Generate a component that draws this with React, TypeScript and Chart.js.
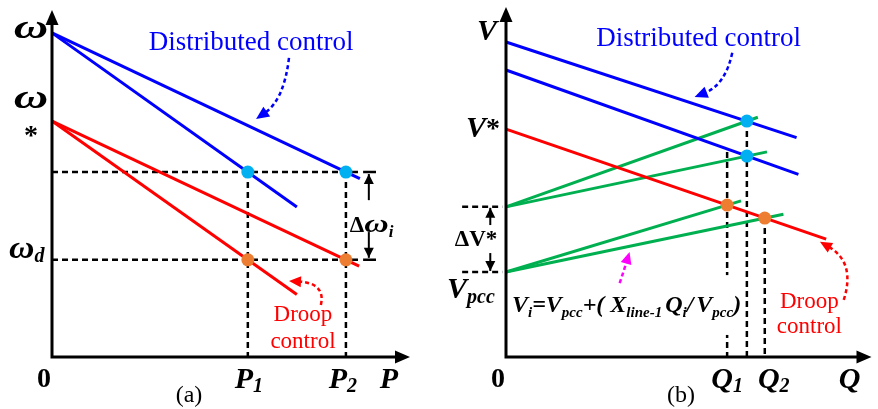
import { useEffect, useRef } from "react";
import { Chart, registerables } from "chart.js";

Chart.register(...registerables);

const SERIF = '"Liberation Serif", "Times New Roman", serif';
const BLUE = "#0000ff";
const RED = "#ff0000";
const GREEN = "#00b050";
const CYAN = "#00b0f0";
const ORANGE = "#ed7d31";
const MAGENTA = "#ff00ff";
const BLACK = "#000000";

type Pt = [number, number];

// ---------- (a) P–ω characteristics ----------
const P_OPERATING = [5.47, 8.21]; // P1, P2
const OMEGA_NOMINAL = 9.34; // ω
const OMEGA_STAR = 6.8; // ω*
const OMEGA_SHARED = 5.33; // common frequency under distributed control
const OMEGA_D = 2.8; // ω_d

const A_DISTRIBUTED: Pt[][] = [
  [[0, 9.34], [8.6, 5.14]],
  [[0, 9.34], [6.84, 4.32]],
];
const A_DROOP: Pt[][] = [
  [[0, 6.8], [8.58, 2.62]],
  [[0, 6.8], [6.84, 1.8]],
];
const A_DISTRIBUTED_POINTS: Pt[] = [[5.47, 5.33], [8.21, 5.33]];
const A_DROOP_POINTS: Pt[] = [[5.47, 2.8], [8.21, 2.8]];
const A_GUIDES: Pt[][] = [
  [[0, 5.33], [8.65, 5.33]],
  [[0, 2.8], [8.65, 2.8]],
  [[5.47, 5.33], [5.47, 0]],
  [[8.21, 5.33], [8.21, 0]],
];

// ---------- (b) Q–V characteristics ----------
const Q_OPERATING = [6.05, 6.59, 7.08]; // Q1, distributed Q, Q2
const V_STAR = 6.51; // V*
const V_UPPER = 4.29; // Vpcc + ΔV*
const V_PCC = 2.43; // Vpcc

const B_DISTRIBUTED: Pt[][] = [
  [[0, 9.0], [7.95, 6.27]],
  [[0, 8.2], [8.0, 5.22]],
];
const B_DROOP: Pt[] = [[0, 6.51], [8.76, 3.37]];
const B_LINE_DROP: Pt[][] = [
  [[0, 4.29], [6.89, 6.85]],
  [[0, 4.29], [7.14, 5.86]],
  [[0, 2.43], [6.43, 4.46]],
  [[0, 2.43], [7.59, 4.08]],
];
const B_DISTRIBUTED_POINTS: Pt[] = [[6.59, 6.74], [6.59, 5.74]];
const B_DROOP_POINTS: Pt[] = [[6.05, 4.34], [7.08, 3.97]];
const B_GUIDES: Pt[][] = [
  [[6.05, 5.86], [6.05, 0]],
  [[6.59, 6.74], [6.59, 0]],
  [[7.08, 3.97], [7.08, 0]],
  [[-1.2, 4.29], [-0.1, 4.29]],
  [[-1.2, 2.43], [-0.1, 2.43]],
];

const BI = (px: number) => `bold italic ${px}px ${SERIF}`;
const B = (px: number) => `bold ${px}px ${SERIF}`;
const R = (px: number) => `${px}px ${SERIF}`;

// [text, font, baseline shift, horizontal stretch] or [gap]
type Part = [string, string, number, number?] | [number];

function rich(ctx: CanvasRenderingContext2D, parts: Part[], x: number, y: number, align: "left" | "center" | "right", color = BLACK) {
  const widths = parts.map((p) => {
    if (p.length === 1) return p[0];
    ctx.font = p[1];
    return ctx.measureText(p[0]).width * (p[3] ?? 1);
  });
  const total = widths.reduce((s, w) => s + w, 0);
  let cx = align === "center" ? x - total / 2 : align === "right" ? x - total : x;
  ctx.textAlign = "left";
  ctx.textBaseline = "alphabetic";
  ctx.fillStyle = color;
  parts.forEach((p, i) => {
    if (p.length > 1) {
      const [t, f, dy, sx] = p as [string, string, number, number?];
      ctx.font = f;
      ctx.save();
      ctx.translate(cx, y + dy);
      ctx.scale(sx ?? 1, 1);
      ctx.fillText(t, 0, 0);
      ctx.restore();
    }
    cx += widths[i];
  });
}

function label(ctx: CanvasRenderingContext2D, s: string, x: number, y: number, font: string, color: string) {
  ctx.font = font;
  ctx.fillStyle = color;
  ctx.textAlign = "center";
  ctx.textBaseline = "middle";
  ctx.fillText(s, x, y);
}

function arrowHead(ctx: CanvasRenderingContext2D, tx: number, ty: number, ux: number, uy: number, len: number, half: number, color: string) {
  ctx.fillStyle = color;
  ctx.beginPath();
  ctx.moveTo(tx, ty);
  ctx.lineTo(tx - ux * len - uy * half, ty - uy * len + ux * half);
  ctx.lineTo(tx - ux * len + uy * half, ty - uy * len - ux * half);
  ctx.closePath();
  ctx.fill();
}

function curvedArrow(ctx: CanvasRenderingContext2D, p0: Pt, c: Pt, tip: Pt, color: string, width: number, headLen: number, headHalf: number) {
  const dx = tip[0] - c[0];
  const dy = tip[1] - c[1];
  const d = Math.hypot(dx, dy);
  const ux = dx / d;
  const uy = dy / d;
  const bx = tip[0] - ux * headLen * 0.8;
  const by = tip[1] - uy * headLen * 0.8;
  ctx.strokeStyle = color;
  ctx.lineWidth = width;
  ctx.setLineDash([4, 3]);
  ctx.beginPath();
  ctx.moveTo(p0[0], p0[1]);
  ctx.quadraticCurveTo(c[0], c[1], bx, by);
  ctx.stroke();
  ctx.setLineDash([]);
  arrowHead(ctx, tip[0], tip[1], ux, uy, headLen, headHalf, color);
}

function drawAxes(ctx: CanvasRenderingContext2D, ca: { left: number; right: number; top: number; bottom: number }) {
  ctx.strokeStyle = BLACK;
  ctx.lineWidth = 3;
  ctx.setLineDash([]);
  ctx.beginPath();
  ctx.moveTo(ca.left, ca.bottom + 1.5);
  ctx.lineTo(ca.left, ca.top + 10);
  ctx.moveTo(ca.left - 1.5, ca.bottom);
  ctx.lineTo(ca.right - 10, ca.bottom);
  ctx.stroke();
  arrowHead(ctx, ca.left, ca.top, 0, -1, 15, 6.5, BLACK);
  arrowHead(ctx, ca.right, ca.bottom, 1, 0, 15, 6.5, BLACK);
}

function vArrow(ctx: CanvasRenderingContext2D, x: number, from: number, tip: number) {
  ctx.strokeStyle = BLACK;
  ctx.lineWidth = 2;
  ctx.setLineDash([]);
  ctx.beginPath();
  ctx.moveTo(x, from);
  ctx.lineTo(x, tip);
  ctx.stroke();
  arrowHead(ctx, x, tip, 0, tip < from ? -1 : 1, 10, 5, BLACK);
}

const toXY = (pts: Pt[]) => pts.map(([x, y]) => ({ x, y }));

const lineSet = (pts: Pt[], color: string, width: number, dash: number[], order: number) => ({
  data: toXY(pts),
  showLine: true,
  borderColor: color,
  borderWidth: width,
  borderDash: dash,
  borderCapStyle: "butt" as const,
  pointRadius: 0,
  pointHoverRadius: 0,
  clip: false as const,
  order,
});

const dotSet = (pts: Pt[], color: string) => ({
  data: toXY(pts),
  showLine: false,
  pointRadius: 6.5,
  pointHoverRadius: 6.5,
  pointBackgroundColor: color,
  pointBorderWidth: 0,
  clip: false as const,
  order: 0,
});

const baseOptions = (padding: { left: number; right: number; top: number; bottom: number }) => ({
  animation: false as const,
  responsive: false,
  maintainAspectRatio: false,
  events: [] as any[],
  layout: { padding },
  scales: {
    x: { type: "linear" as const, min: 0, max: 10, display: false },
    y: { type: "linear" as const, min: 0, max: 10, display: false },
  },
  plugins: { legend: { display: false }, tooltip: { enabled: false } },
});

const panelAPlugin = {
  id: "panelA",
  afterDatasetsDraw(chart: any) {
    const { ctx, chartArea: ca } = chart;
    const X = (v: number) => chart.scales.x.getPixelForValue(v);
    const Y = (v: number) => chart.scales.y.getPixelForValue(v);
    ctx.save();

    // Δω_i bracket
    const bx = X(8.85);
    ctx.strokeStyle = BLACK;
    ctx.lineWidth = 2.5;
    ctx.setLineDash([]);
    ctx.beginPath();
    ctx.moveTo(X(8.69), Y(OMEGA_SHARED));
    ctx.lineTo(X(9.05), Y(OMEGA_SHARED));
    ctx.moveTo(X(8.69), Y(OMEGA_D));
    ctx.lineTo(X(9.05), Y(OMEGA_D));
    ctx.stroke();
    vArrow(ctx, bx, Y(4.52), Y(OMEGA_SHARED) + 2);
    vArrow(ctx, bx, Y(3.6), Y(OMEGA_D) - 2);
    rich(ctx, [["Δ", B(23), 0], ["ω", BI(26), 0, 1.3], ["i", BI(17), 5]], X(8.85) - 19, Y(3.8) + 7, "left");

    // annotation arrows
    curvedArrow(ctx, [X(6.62), Y(8.62)], [X(6.48), Y(7.41)], [X(5.7), Y(6.86)], BLUE, 2.5, 13, 6);
    curvedArrow(ctx, [X(7.51), Y(1.5)], [X(7.65), Y(2.13)], [X(6.62), Y(2.19)], RED, 2.5, 12, 5.5);

    label(ctx, "Distributed control", X(5.56), Y(9.05), R(27), BLUE);
    label(ctx, "Droop", X(7.01), Y(1.2), R(23), RED);
    label(ctx, "control", X(7.01), Y(0.43), R(23), RED);

    drawAxes(ctx, ca);

    // y-axis labels
    rich(ctx, [["ω", BI(34), 0, 1.4]], 31, Y(OMEGA_NOMINAL) + 5, "center");
    rich(ctx, [["ω", BI(34), 0, 1.4]], 31, Y(OMEGA_STAR) - 13, "center");
    rich(ctx, [["*", B(28), 0]], 31, Y(OMEGA_STAR) + 23, "center");
    rich(ctx, [["ω", BI(32), 0, 1.1], ["d", BI(20), 4]], 9, Y(OMEGA_D) - 2, "left");

    // x-axis labels
    rich(ctx, [["0", B(28), 0]], ca.left - 8, ca.bottom + 30, "center");
    rich(ctx, [["P", BI(30), 0], ["1", BI(20), 4]], X(P_OPERATING[0]) + 1, ca.bottom + 31, "center");
    rich(ctx, [["P", BI(30), 0], ["2", BI(20), 4]], X(P_OPERATING[1]) - 3, ca.bottom + 31, "center");
    rich(ctx, [["P", BI(30), 0]], ca.right - 21, ca.bottom + 31, "center");
    rich(ctx, [["(a)", R(24), 0]], 189, ca.bottom + 45, "center");

    ctx.restore();
  },
};

const panelBPlugin = {
  id: "panelB",
  afterDatasetsDraw(chart: any) {
    const { ctx, chartArea: ca } = chart;
    const X = (v: number) => chart.scales.x.getPixelForValue(v);
    const Y = (v: number) => chart.scales.y.getPixelForValue(v);
    ctx.save();

    // formula box
    ctx.fillStyle = "#ffffff";
    ctx.fillRect(ca.left + 3, Y(2.34), X(6.3) - ca.left - 3, Y(0.63) - Y(2.34));
    const M = BI(24);
    const S = BI(15);
    rich(
      ctx,
      [
        ["V", M, 0], ["i", S, 5], ["=V", M, 0], ["pcc", S, 5], ["+(", M, 0], [6],
        ["X", M, 0], ["line-1", S, 5], [3], ["Q", M, 0], ["i", S, 5], ["/", M, 0], [3],
        ["V", M, 0], ["pcc", S, 5], [")", M, 0],
      ],
      ca.left + 6,
      Y(1.29),
      "left"
    );

    // ΔV* arrows
    const ax = X(-0.43);
    vArrow(ctx, ax, Y(3.77), Y(V_UPPER) + 1);
    vArrow(ctx, ax, Y(2.97), Y(V_PCC) - 1);

    // annotation arrows
    curvedArrow(ctx, [X(6.19), Y(8.69)], [X(6.0), Y(7.77)], [X(5.16), Y(7.43)], BLUE, 2.5, 13, 6);
    curvedArrow(ctx, [X(9.24), Y(1.63)], [X(9.57), Y(2.71)], [X(8.59), Y(3.29)], RED, 2.5, 12, 5.5);
    curvedArrow(ctx, [X(3.11), Y(2.11)], [X(3.25), Y(2.55)], [X(3.38), Y(3.0)], MAGENTA, 2.5, 12, 5.5);

    label(ctx, "Distributed control", X(5.27), Y(9.09), R(27), BLUE);
    label(ctx, "Droop", X(8.3), Y(1.57), R(23), RED);
    label(ctx, "control", X(8.3), Y(0.86), R(23), RED);

    drawAxes(ctx, ca);

    // y-axis labels
    rich(ctx, [["V", BI(30), 0]], 47, 40, "center");
    rich(ctx, [["V", BI(30), 0], ["*", B(28), 0]], 26, Y(V_STAR) + 8, "left");
    rich(ctx, [["ΔV*", B(23), 0]], 36, Y((V_UPPER + V_PCC) / 2) + 7, "center");
    rich(ctx, [["V", BI(30), 0], ["pcc", BI(20), 5]], 7, Y(V_PCC) + 26, "left");

    // x-axis labels
    rich(ctx, [["0", B(28), 0]], ca.left - 8, ca.bottom + 30, "center");
    rich(ctx, [["Q", BI(30), 0], ["1", BI(20), 4]], X(Q_OPERATING[0]), ca.bottom + 31, "center");
    rich(ctx, [["Q", BI(30), 0], ["2", BI(20), 4]], X(Q_OPERATING[2]) + 9, ca.bottom + 31, "center");
    rich(ctx, [["Q", BI(30), 0]], ca.right - 22, ca.bottom + 31, "center");
    rich(ctx, [["(b)", R(24), 0]], 241, ca.bottom + 45, "center");

    ctx.restore();
  },
};

function configA(): any {
  return {
    type: "scatter",
    data: {
      datasets: [
        dotSet(A_DISTRIBUTED_POINTS, CYAN),
        dotSet(A_DROOP_POINTS, ORANGE),
        ...A_DISTRIBUTED.map((l) => lineSet(l, BLUE, 3, [], 1)),
        ...A_DROOP.map((l) => lineSet(l, RED, 3, [], 1)),
        ...A_GUIDES.map((l) => lineSet(l, BLACK, 2.5, [6, 4], 2)),
      ],
    },
    options: baseOptions({ left: 52, right: 30, top: 10, bottom: 52 }),
    plugins: [panelAPlugin],
  };
}

function configB(): any {
  return {
    type: "scatter",
    data: {
      datasets: [
        dotSet(B_DISTRIBUTED_POINTS, CYAN),
        dotSet(B_DROOP_POINTS, ORANGE),
        ...B_DISTRIBUTED.map((l) => lineSet(l, BLUE, 3, [], 1)),
        lineSet(B_DROOP, RED, 3, [], 1),
        ...B_LINE_DROP.map((l) => lineSet(l, GREEN, 3, [], 1)),
        ...B_GUIDES.map((l) => lineSet(l, BLACK, 2.5, [6, 4], 2)),
      ],
    },
    options: baseOptions({ left: 66, right: 2, top: 7, bottom: 52 }),
    plugins: [panelBPlugin],
  };
}

export default function App() {
  const refA = useRef<HTMLCanvasElement>(null);
  const refB = useRef<HTMLCanvasElement>(null);
  useEffect(() => {
    const a = new Chart(refA.current!, configA());
    const b = new Chart(refB.current!, configB());
    return () => {
      a.destroy();
      b.destroy();
    };
  }, []);
  return (
    <div style={{ position: "absolute", left: 0, top: 0, width: 878, height: 409, background: "#ffffff" }}>
      <canvas ref={refA} width={440} height={409} style={{ position: "absolute", left: 0, top: 0 }} />
      <canvas ref={refB} width={438} height={409} style={{ position: "absolute", left: 440, top: 0 }} />
    </div>
  );
}
